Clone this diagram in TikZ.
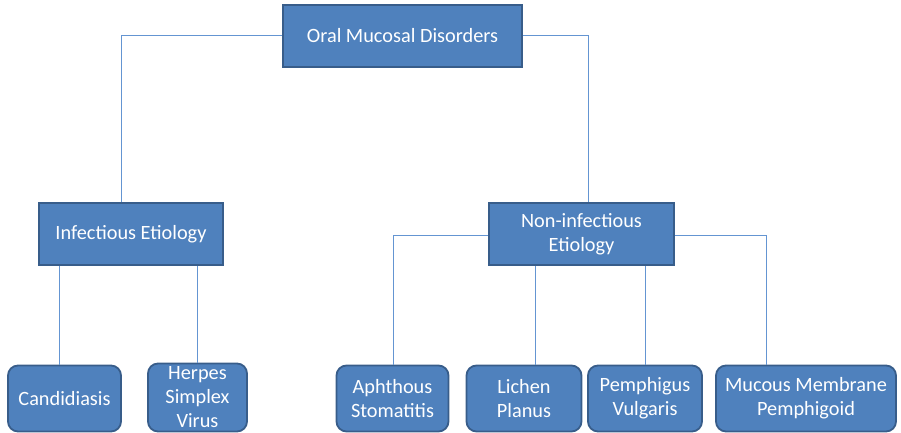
\documentclass[tikz,border=0pt]{standalone}
\usepackage{fontspec}
\setmainfont{Carlito}
\definecolor{boxfill}{HTML}{4F81BD}
\definecolor{boxline}{HTML}{385D8A}
\definecolor{connline}{HTML}{6495D2}
\begin{document}
\begin{tikzpicture}[x=1pt,y=-1pt,
  box/.style={draw=boxline,line width=1.8pt,fill=boxfill,text=white,align=center,
    inner sep=0pt,font=\fontsize{20.3}{24}\selectfont},
  leaf/.style={box,rounded corners=10pt},
  conn/.style={draw=connline,line width=1pt}]
\useasboundingbox (0,0) rectangle (901,433);
% boxes
\node[box,minimum width=239pt,minimum height=62pt] (top) at (402.5,36) {Oral Mucosal Disorders};
\node[box,minimum width=184pt,minimum height=62pt] (inf) at (131,234) {Infectious Etiology};
\node[box,minimum width=185pt,minimum height=62pt] (non) at (581.5,234) {Non-infectious\\Etiology};
\node[leaf,minimum width=113pt,minimum height=66pt] (cand) at (64.5,398.5) {Candidiasis};
\node[leaf,minimum width=99pt,minimum height=68pt] (herp) at (197.5,397.5) {Herpes\\Simplex\\Virus};
\node[leaf,minimum width=112pt,minimum height=66pt] (aph) at (392.5,398.5) {Aphthous\\Stomatitis};
\node[leaf,minimum width=115pt,minimum height=66pt] (lic) at (524,398.5) {Lichen\\Planus};
\node[leaf,minimum width=114pt,minimum height=66pt] (pem) at (645,398.5) {Pemphigus\\Vulgaris};
\node[leaf,minimum width=180pt,minimum height=66pt] (muc) at (806,398.5) {Mucous Membrane\\Pemphigoid};
% connectors
\draw[conn] (top.west) -| ([xshift=-10pt]inf.north);
\draw[conn] (top.east) -| ([xshift=6.5pt]non.north);
\draw[conn] ([xshift=-5.5pt]cand.north) -- ([xshift=-5.5pt]cand.north |- inf.south);
\draw[conn] (herp.north) -- (herp.north |- inf.south);
\draw[conn] ([yshift=-1pt]non.west) -| ([xshift=1pt]aph.north);
\draw[conn] ([xshift=11pt]lic.north) -- ([xshift=11pt]lic.north |- non.south);
\draw[conn] (pem.north) -- (pem.north |- non.south);
\draw[conn] ([yshift=-1pt]non.east) -| ([xshift=-40pt]muc.north);
\end{tikzpicture}
\end{document}
